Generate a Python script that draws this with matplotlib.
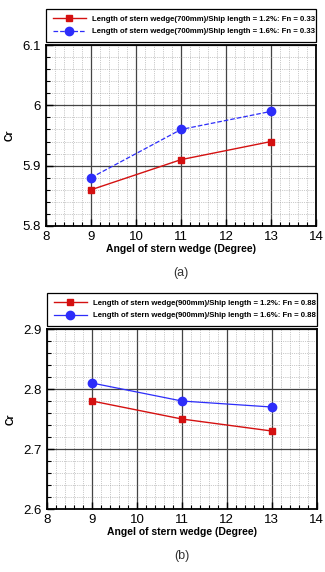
import matplotlib.pyplot as plt
from matplotlib.ticker import MultipleLocator, FormatStrFormatter

plt.rcParams['font.family'] = ['Liberation Sans', 'DejaVu Sans']

# dados
angulos = [9, 11, 13]
cr_700_12 = [5.86, 5.91, 5.94]
cr_700_16 = [5.88, 5.96, 5.99]
cr_900_12 = [2.78, 2.75, 2.73]
cr_900_16 = [2.81, 2.78, 2.77]

rotulos_a = ['Length of stern wedge(700mm)/Ship length = 1.2%: Fn = 0.33',
             'Length of stern wedge(700mm)/Ship length = 1.6%: Fn = 0.33']
rotulos_b = ['Length of stern wedge(900mm)/Ship length = 1.2%: Fn = 0.88',
             'Length of stern wedge(900mm)/Ship length = 1.6%: Fn = 0.88']

vermelho = '#d41010'
azul = '#2d2dfa'


def painel(ax, y1, y2, rot, ylim, estilo2, letra):
    ax.plot(angulos, y1, color=vermelho, lw=1.0, marker='s', ms=4.5, label=rot[0])
    ax.plot(angulos, y2, color=azul, lw=0.9, ls=estilo2, marker='o', ms=6, label=rot[1])
    ax.set_xlim(8, 14)
    ax.set_ylim(*ylim)
    ax.xaxis.set_major_locator(MultipleLocator(1))
    ax.xaxis.set_minor_locator(MultipleLocator(0.2))
    ax.yaxis.set_major_locator(MultipleLocator(0.1))
    ax.yaxis.set_minor_locator(MultipleLocator(0.02))
    ax.yaxis.set_major_formatter(FormatStrFormatter('%g'))
    ax.grid(which='major', color='#444444', lw=0.9)
    ax.grid(which='minor', color='#999999', lw=0.5, ls=':')
    ax.tick_params(which='both', direction='in', top=False, right=False, labelsize=9.5)
    ax.tick_params(which='major', length=5, width=1)
    ax.tick_params(which='minor', length=3, width=0.8)
    for s in ax.spines.values():
        s.set_linewidth(1.3)
    ax.set_xlabel('Angel of stern wedge (Degree)', fontsize=7.5, fontweight='bold', labelpad=1)
    ax.set_ylabel('Cr', fontsize=7.5, fontweight='bold', labelpad=6)
    leg = ax.legend(loc='lower left', bbox_to_anchor=(0, 1.015, 1, 0.18), mode='expand',
                    prop={'weight': 'bold', 'size': 5.6}, fancybox=False,
                    edgecolor='black', framealpha=1, borderaxespad=0, handlelength=4.2,
                    borderpad=0.9, labelspacing=0.6)
    leg.get_frame().set_linewidth(0.9)
    ax.text(0.5, -0.225, letra, transform=ax.transAxes, ha='center', va='top',
            fontsize=9, color='#333333')


fig = plt.figure(figsize=(3.25, 5.72), dpi=100)
ax1 = fig.add_axes([0.1415, 0.6049, 0.831, 0.3164])
ax2 = fig.add_axes([0.1446, 0.1101, 0.830, 0.3147])

painel(ax1, cr_700_12, cr_700_16, rotulos_a, (5.8, 6.1), '--', '(a)')
painel(ax2, cr_900_12, cr_900_16, rotulos_b, (2.6, 2.9), '-', '(b)')

plt.savefig('out.png', dpi=100)
